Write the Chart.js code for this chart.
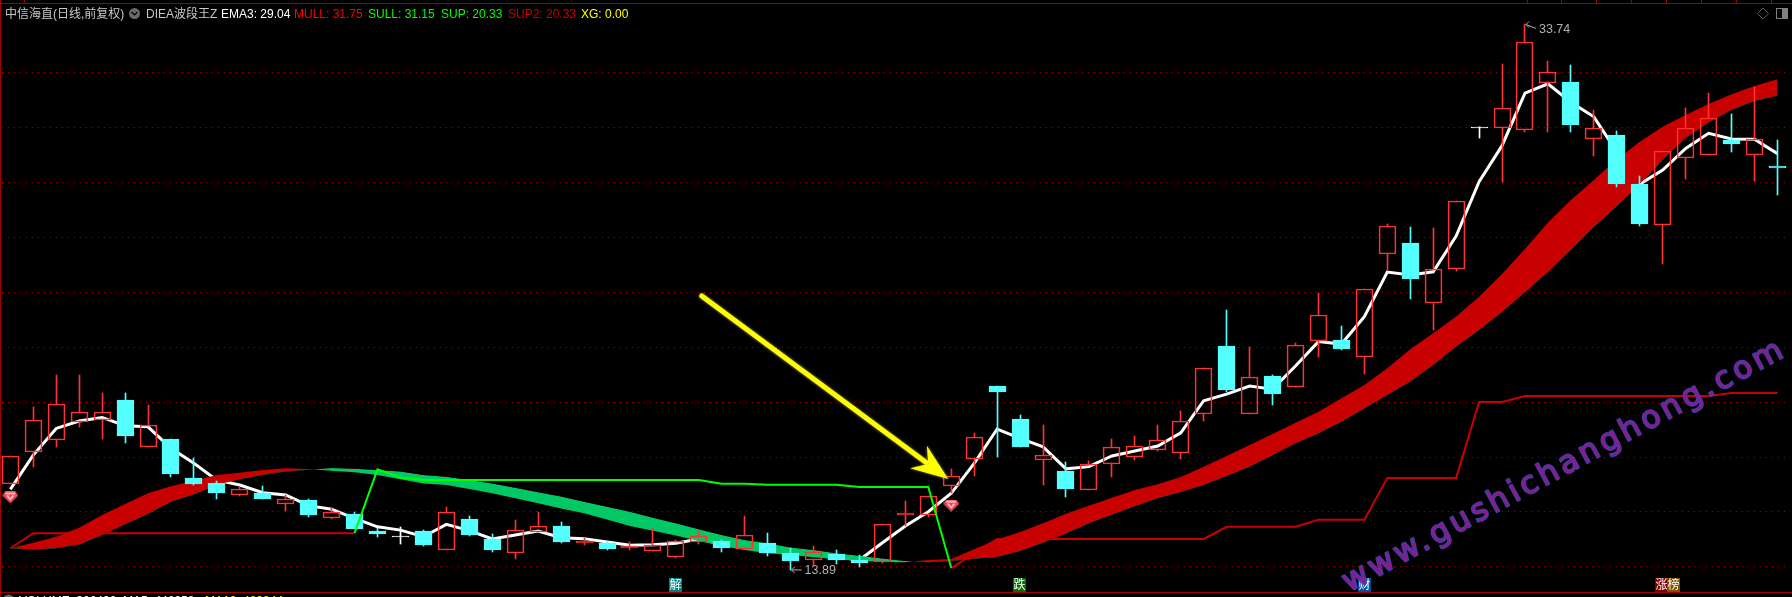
<!DOCTYPE html>
<html>
<head>
<meta charset="utf-8">
<title>中信海直 DIEA波段王Z</title>
<script src="https://cdn.jsdelivr.net/npm/chart.js@4"></script>
<style>
    html, body { margin: 0; padding: 0; background: #000; overflow: hidden; }
    #wrap { position: relative; width: 1792px; height: 597px; }
</style>
</head>
<body>
<div id="wrap"><canvas id="kline"></canvas></div>
<script>
// daily candles
const opens = [17.01,18.17,18.61,19.26,19.34,20.07,18.37,18.65,17.24,17.05,
    16.63,16.69,16.30,16.44,15.79,15.93,15.31,15.13,15.31,14.63,
    15.74,15.02,14.52,15.28,15.49,14.88,14.87,14.70,14.59,14.37,
    14.90,14.94,14.66,14.87,14.51,14.24,14.47,14.25,14.19,15.90,
    15.90,16.96,17.92,20.58,19.38,17.90,17.49,16.81,17.76,18.01,
    18.27,18.16,19.58,22.04,19.58,20.95,20.56,22.23,22.26,21.65,
    25.40,25.79,23.59,24.83,30.02,29.98,29.89,31.62,31.65,29.58,
    29.72,27.93,26.45,28.89,29.00,29.54,29.00,28.59];
const closes = [18.05,19.34,19.92,19.63,19.63,18.76,19.15,17.38,17.02,16.69,
    16.82,16.47,16.46,15.89,15.99,15.38,15.20,15.13,14.80,15.99,
    15.16,14.62,15.33,15.48,14.91,14.93,14.65,14.75,14.79,14.93,
    15.11,14.69,15.15,14.51,14.22,14.53,14.25,14.14,15.55,15.96,
    16.57,17.30,18.72,20.37,18.36,18.06,16.84,17.73,18.35,18.39,
    18.61,19.30,21.23,20.44,20.90,20.29,22.06,23.16,21.93,24.10,
    26.40,24.49,24.83,27.30,30.02,30.69,33.09,32.00,30.08,29.96,
    27.93,26.48,29.12,29.96,30.33,29.39,29.56,28.53];
const highs = [18.05,19.82,20.98,20.98,20.33,20.33,19.89,18.65,17.96,17.13,
    16.92,16.94,16.62,16.47,16.13,16.01,15.43,15.44,15.34,16.18,
    15.85,15.20,15.71,16.01,15.63,15.04,14.94,14.91,15.43,14.98,
    15.30,14.98,15.85,15.23,14.69,14.76,14.62,14.43,15.55,16.40,
    16.58,17.56,18.87,20.58,19.53,19.16,17.81,17.85,18.65,18.76,
    19.16,19.67,21.23,23.35,22.00,20.98,22.15,23.97,22.77,24.10,
    26.48,26.37,26.33,27.30,30.02,32.30,33.74,32.41,32.27,30.63,
    29.86,28.23,29.12,30.70,31.25,30.48,31.46,29.54];
const lows = [17.01,17.65,18.37,19.10,18.67,18.52,18.37,17.28,16.98,16.47,
    16.58,16.47,16.05,15.83,15.74,15.38,15.10,14.83,14.76,14.63,
    15.14,14.54,14.30,15.28,14.87,14.80,14.62,14.63,14.59,14.34,
    14.84,14.54,14.66,14.40,13.89,14.07,14.11,14.00,14.14,15.49,
    15.81,16.68,17.32,18.01,18.36,16.98,16.54,16.81,17.28,17.89,
    18.22,17.94,19.32,20.38,19.58,19.89,20.56,21.64,21.89,21.03,
    24.80,23.75,22.62,24.78,29.62,28.01,29.84,29.84,29.84,28.96,
    27.84,26.41,25.03,28.12,29.00,29.11,28.04,27.55];

// indicator lines
const ema3 = [16.82,18.07,19.04,19.31,19.44,19.14,19.10,18.32,17.77,17.16,
    16.98,16.70,16.62,16.23,16.10,15.77,15.46,15.34,15.10,15.55,
    15.32,15.02,15.16,15.31,15.06,15.03,14.91,14.79,14.81,14.86,
    15.02,14.83,14.86,14.74,14.55,14.50,14.37,14.25,14.88,15.49,
    16.01,16.68,17.77,19.02,18.68,18.37,17.57,17.65,18.04,18.22,
    18.40,18.88,20.05,20.29,20.58,20.47,21.31,22.20,22.11,23.11,
    24.73,24.62,24.74,26.04,28.02,29.33,31.24,31.58,30.91,30.38,
    29.11,27.93,28.44,29.23,29.78,29.57,29.56,29.04];
const mull = [14.68,14.88,15.10,15.43,15.89,16.29,16.68,16.94,17.14,17.35,
    17.43,17.53,17.59,17.56,17.50,17.45,17.35,17.19,17.04,16.98,
    16.84,16.68,16.50,16.32,16.13,15.95,15.73,15.49,15.32,15.14,
    14.94,14.76,14.62,14.50,14.43,14.35,14.28,14.23,14.18,14.17,
    14.25,14.29,14.64,15.00,15.27,15.59,15.94,16.23,16.52,16.80,
    17.01,17.27,17.65,18.04,18.44,18.84,19.25,19.65,20.14,20.62,
    21.23,21.92,22.50,23.11,23.83,24.66,25.57,26.53,27.35,28.08,
    28.83,29.47,30.02,30.45,30.85,31.20,31.50,31.75];
const sull = [14.68,14.63,14.68,14.82,15.16,15.55,15.93,16.37,16.64,16.98,
    17.19,17.35,17.47,17.54,17.60,17.57,17.53,17.47,17.35,17.28,
    17.16,17.04,16.88,16.72,16.56,16.37,16.19,16.01,15.79,15.59,
    15.37,15.16,14.98,14.86,14.71,14.62,14.50,14.41,14.31,14.22,
    14.17,14.22,14.30,14.36,14.58,14.88,15.22,15.59,15.90,16.21,
    16.50,16.73,16.98,17.31,17.65,18.07,18.50,18.86,19.28,19.77,
    20.26,20.74,21.35,22.01,22.62,23.28,24.00,24.73,25.53,26.37,
    27.13,27.93,28.81,29.61,30.17,30.63,30.96,31.15];
const sup = [null,null,null,null,null,null,null,null,null,null,
    null,null,null,null,null,15.23,17.55,17.25,17.16,17.16,
    17.16,17.16,17.16,17.16,17.16,17.16,17.16,17.16,17.16,17.16,
    17.16,17.03,17.03,16.99,16.99,16.99,16.99,16.91,16.91,16.91,
    16.91,13.96];
const sup2 = [14.68,15.23,15.23,15.23,15.23,15.23,15.23,15.23,15.23,15.23,
    15.23,15.23,15.23,15.23,15.23,15.23,null,null,null,null,
    null,null,null,null,null,null,null,null,null,null,
    null,null,null,null,null,null,null,null,null,null,
    null,13.96,14.50,15.02,15.02,15.02,15.02,15.02,15.02,15.02,
    15.02,15.02,15.02,15.46,15.46,15.46,15.46,15.72,15.72,15.72,
    17.24,17.24,17.24,17.24,20.00,20.00,20.22,20.22,20.22,20.22,
    20.22,20.22,20.22,20.22,20.22,20.33,20.33,20.33];

const gridLevels = [14, 16, 18, 20, 22, 24, 26, 28, 30, 32];
const gemBars = [0, 41];
const gemPrices = [16.53, 16.23];
const arrowFrom = [30.13, 23.86];
const arrowTip = [40.87, 17.20];

const headerItems = [
    ["中信海直(日线,前复权)", 5, "#c8c8c8"],
    ["DIEA波段王Z", 146, "#c8c8c8"],
    ["EMA3: 29.04", 221, "#ffffff"],
    ["MULL: 31.75", 294, "#ff0000"],
    ["SULL: 31.15", 368, "#00ff00"],
    ["SUP: 20.33", 441, "#00ff00"],
    ["SUP2: 20.33", 508, "#c80000"],
    ["XG: 0.00", 581, "#ffff00"]
];
const eventTags = [
    ["解", 669, "#008080"],
    ["跌", 1013, "#007000"],
    ["财", 1358, "#0050a0"],
    ["涨", 1655, "#800000"],
    ["榜", 1667, "#805000"]
];
const topTicks = [24, 1527, 1561, 1596, 1631, 1666, 1701, 1736, 1771];

const RED = "#ff3232";
const CYAN = "#54ffff";
const FONT = "'Liberation Sans', 'Noto Sans CJK SC', sans-serif";

const barIndex = opens.map((_, i) => i);
const candleColor = i => closes[i] > opens[i] ? RED : closes[i] < opens[i] ? CYAN : "#ffffff";

const bodies = barIndex.map(i => ({ x: i, y: [opens[i], closes[i]] }));
const upperWicks = barIndex.map(i => ({ x: i, y: [Math.max(opens[i], closes[i]), highs[i]] }));
const lowerWicks = barIndex.map(i => ({ x: i, y: [lows[i], Math.min(opens[i], closes[i])] }));

// small ruby marker, used as point image
function makeGem() {
    const c = document.createElement("canvas");
    c.width = 16;
    c.height = 12;
    const g = c.getContext("2d");
    g.fillStyle = "#f04858";
    g.beginPath();
    g.moveTo(3, 0); g.lineTo(13, 0); g.lineTo(16, 4); g.lineTo(8, 12); g.lineTo(0, 4);
    g.closePath();
    g.fill();
    g.fillStyle = "#ffb0b8";
    g.fillRect(3, 1, 10, 2);
    g.fillStyle = "#ffe8e8";
    g.beginPath();
    g.moveTo(4, 4); g.lineTo(12, 4); g.lineTo(8, 9);
    g.closePath();
    g.fill();
    g.fillStyle = "#e83848";
    g.beginPath();
    g.moveTo(6, 4); g.lineTo(10, 4); g.lineTo(8, 7);
    g.closePath();
    g.fill();
    return c;
}

// the screenshot has crisp bars, so snap them to whole pixels
const snapBars = {
    id: "snapBars",
    afterDatasetsUpdate(chart) {
        chart.data.datasets.forEach((ds, n) => {
            const meta = chart.getDatasetMeta(n);
            if (meta.type !== "bar") return;
            meta.data.forEach(bar => {
                bar.x = Math.round(bar.x - bar.width / 2) + bar.width / 2;
                bar.y = Math.round(bar.y);
                bar.base = Math.round(bar.base);
                if (ds.isBody && bar.base === bar.y) bar.base = bar.y + 1;
            });
        });
    }
};

function drawArrow(ctx, xs, ys) {
    const x0 = xs.getPixelForValue(arrowFrom[0]);
    const y0 = ys.getPixelForValue(arrowFrom[1]);
    const x1 = xs.getPixelForValue(arrowTip[0]);
    const y1 = ys.getPixelForValue(arrowTip[1]);
    const len = Math.hypot(x1 - x0, y1 - y0);
    const ux = (x1 - x0) / len;
    const uy = (y1 - y0) / len;
    const at = (along, side) => [x1 + ux * along - uy * side, y1 + uy * along + ux * side];
    ctx.save();
    ctx.shadowColor = "rgba(255,255,150,0.6)";
    ctx.shadowBlur = 3;
    ctx.strokeStyle = "#ffff00";
    ctx.fillStyle = "#ffff00";
    ctx.lineWidth = 5;
    ctx.lineCap = "round";
    ctx.beginPath();
    ctx.moveTo(x0, y0);
    ctx.lineTo(...at(-28, 0));
    ctx.stroke();
    ctx.beginPath();
    ctx.moveTo(x1, y1);
    ctx.lineTo(...at(-37, -14));
    ctx.lineTo(...at(-25, 0));
    ctx.lineTo(...at(-37, 14));
    ctx.closePath();
    ctx.fill();
    ctx.restore();
}

function drawExtremeLabel(ctx, x, y, text, dy) {
    ctx.strokeStyle = "#b0b0b0";
    ctx.lineWidth = 1;
    ctx.beginPath();
    ctx.moveTo(x + 11, y + dy);
    ctx.lineTo(x + 1, y);
    ctx.moveTo(x + 1, y);
    ctx.lineTo(x + 4, y - 3);
    ctx.moveTo(x + 1, y);
    ctx.lineTo(x + 4, y + 3);
    ctx.stroke();
    ctx.fillStyle = "#b0b0b0";
    ctx.font = "12.5px " + FONT;
    ctx.textAlign = "left";
    ctx.textBaseline = "middle";
    ctx.fillText(text, x + 14, y + dy + 1);
}

const overlay = {
    id: "overlay",
    afterDraw(chart) {
        const ctx = chart.ctx;
        const xs = chart.scales.x;
        const ys = chart.scales.y;
        ctx.save();

        // frame
        ctx.fillStyle = "#a00000";
        ctx.fillRect(0, 3, 1792, 1);
        ctx.fillRect(0, 0, 1, 597);
        ctx.fillRect(0, 592, 1792, 1);
        topTicks.forEach(x => ctx.fillRect(x, 0, 1, 3));

        drawArrow(ctx, xs, ys);

        // highest / lowest price
        const hi = highs.indexOf(Math.max(...highs));
        const lo = lows.indexOf(Math.min(...lows));
        drawExtremeLabel(ctx, xs.getPixelForValue(hi), ys.getPixelForValue(highs[hi]), highs[hi].toFixed(2), 4);
        drawExtremeLabel(ctx, xs.getPixelForValue(lo), ys.getPixelForValue(lows[lo]), lows[lo].toFixed(2), 0);

        // header
        ctx.textAlign = "left";
        ctx.textBaseline = "alphabetic";
        ctx.font = "12px " + FONT;
        headerItems.forEach(([text, x, color]) => {
            ctx.fillStyle = color;
            ctx.fillText(text, x, 18);
        });

        // little round button next to the stock name
        ctx.fillStyle = "#6a6a6a";
        ctx.beginPath();
        ctx.arc(134.5, 13.5, 5.5, 0, Math.PI * 2);
        ctx.fill();
        ctx.strokeStyle = "#000000";
        ctx.lineWidth = 1.2;
        ctx.beginPath();
        ctx.moveTo(131.5, 12);
        ctx.lineTo(134.5, 15);
        ctx.lineTo(137.5, 12);
        ctx.stroke();

        // icons top right
        ctx.strokeStyle = "#5a5a5a";
        ctx.lineWidth = 1;
        ctx.beginPath();
        ctx.moveTo(1763, 8); ctx.lineTo(1768.5, 13.5); ctx.lineTo(1763, 19); ctx.lineTo(1757.5, 13.5);
        ctx.closePath();
        ctx.stroke();
        ctx.strokeStyle = "#808080";
        ctx.strokeRect(1776.5, 8.5, 11, 10);
        ctx.fillStyle = "#808080";
        ctx.fillRect(1782, 9, 5, 9);

        // event tags along the bottom
        ctx.font = "12px " + FONT;
        ctx.textBaseline = "middle";
        eventTags.forEach(([text, x, color]) => {
            ctx.fillStyle = color;
            ctx.fillRect(x, 578, 13, 14);
            ctx.fillStyle = "#ffffff";
            ctx.fillText(text, x + 0.5, 585.5);
        });

        // volume panel header, cut off by the window edge
        ctx.textBaseline = "alphabetic";
        ctx.fillStyle = "#6a6a6a";
        ctx.beginPath();
        ctx.arc(8.5, 600, 5.5, 0, Math.PI * 2);
        ctx.fill();
        ctx.font = "12px " + FONT;
        ctx.fillStyle = "#ffffff";
        ctx.fillText("VOLUME: 306490  MA5: 446358", 19, 605);
        ctx.fillStyle = "#ffff00";
        ctx.fillText("MA10: 489844", 205, 605);

        // watermark
        ctx.translate(1349, 592);
        ctx.rotate(-28.4 * Math.PI / 180);
        ctx.font = "31px 'DejaVu Sans', sans-serif";
        ctx.letterSpacing = "3.8px";
        ctx.lineJoin = "round";
        ctx.lineWidth = 2;
        ctx.strokeStyle = "rgba(60,80,190,0.85)";
        ctx.strokeText("www.gushichanghong.com", 0, 0);
        ctx.fillStyle = "#8a1a90";
        ctx.fillText("www.gushichanghong.com", 0, 0);
        ctx.restore();
    }
};

new Chart(document.getElementById("kline"), {
    data: {
        datasets: [
            {
                type: "line", label: "EMA3", order: 9,
                data: barIndex.map(i => ({ x: i, y: ema3[i] })),
                borderColor: "#ffffff", borderWidth: 3, pointRadius: 0, tension: 0
            },
            {
                type: "line", label: "MULL", order: 8,
                data: barIndex.map(i => ({ x: i, y: mull[i] })),
                borderWidth: 0, pointRadius: 0, tension: 0,
                fill: { target: 2, above: "#c80000", below: "#00c864" }
            },
            {
                type: "line", label: "SULL", order: 7,
                data: barIndex.map(i => ({ x: i, y: sull[i] })),
                borderWidth: 0, pointRadius: 0, tension: 0
            },
            {
                type: "bar", label: "upper wick", order: 5, grouped: false,
                data: upperWicks, barThickness: 1,
                backgroundColor: barIndex.map(candleColor)
            },
            {
                type: "bar", label: "lower wick", order: 4, grouped: false,
                data: lowerWicks, barThickness: 1,
                backgroundColor: barIndex.map(candleColor)
            },
            {
                type: "bar", label: "body", order: 3, grouped: false, isBody: true,
                data: bodies, barThickness: 17, borderWidth: 1, borderSkipped: false,
                borderColor: barIndex.map(candleColor),
                backgroundColor: barIndex.map(i => closes[i] > opens[i] ? "rgba(0,0,0,0)" : candleColor(i))
            },
            {
                type: "line", label: "SUP2", order: 2,
                data: barIndex.map(i => ({ x: i, y: sup2[i] })),
                borderColor: "#c80000", borderWidth: 2, pointRadius: 0, tension: 0, spanGaps: false
            },
            {
                type: "line", label: "SUP", order: 1,
                data: barIndex.map(i => ({ x: i, y: i < sup.length ? sup[i] : null })),
                borderColor: "#00ff00", borderWidth: 2, pointRadius: 0, tension: 0, spanGaps: false
            },
            {
                type: "line", label: "XG", order: 0, showLine: false,
                data: gemBars.map((b, k) => ({ x: b, y: gemPrices[k] })),
                pointStyle: makeGem(), pointRadius: 8
            }
        ]
    },
    options: {
        responsive: true,
        maintainAspectRatio: false,
        animation: false,
        events: [],
        layout: { autoPadding: false, padding: { left: 2, right: 4, top: 0, bottom: 0 } },
        plugins: { legend: { display: false }, tooltip: { enabled: false } },
        scales: {
            x: {
                type: "linear", display: false, offset: false, min: -0.362, max: 77.46,
                grid: { display: false }
            },
            y: {
                type: "linear", min: 12.906, max: 34.631,
                ticks: { display: false },
                afterBuildTicks: axis => { axis.ticks = gridLevels.map(v => ({ value: v })); },
                border: { display: false, dash: [1, 5] },
                grid: { color: "#a80000", lineWidth: 1, drawTicks: false, tickLength: 0 },
                afterFit: axis => { axis.width = 0; }
            }
        }
    },
    plugins: [snapBars, overlay]
});
</script>
</body>
</html>
